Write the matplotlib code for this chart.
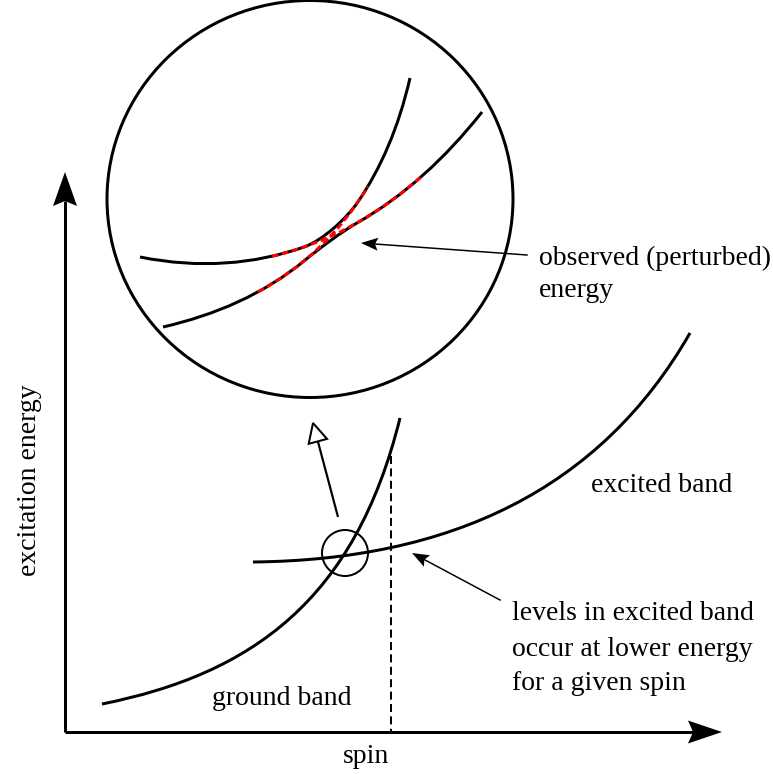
import numpy as np
import matplotlib
matplotlib.use("Agg")
import matplotlib.pyplot as plt
from matplotlib.path import Path
from matplotlib.patches import PathPatch, Ellipse, Circle, Polygon

plt.rcParams['font.family'] = ['Liberation Serif', 'DejaVu Serif']

# ---- bands as cubic Bezier control points (x = spin, y = screen depth, grows downward) ----
ground_ctrl_x = [102, 252, 355, 400]
ground_ctrl_y = [704, 674, 600, 418]

excited_ctrl_x = [253, 450, 600, 690]
excited_ctrl_y = [562, 560, 490, 333]

# ---- magnified crossing region: unperturbed bands ----
flat_ctrl_x = [140, 280, 395, 482]
flat_ctrl_y = [257, 285, 222, 112]
steep_ctrl_x = [163, 280, 375, 410]
steep_ctrl_y = [327, 300, 230, 78]
# spin window over which the observed levels swap character
mix_from, mix_to = 304, 358
# spin ranges where the unperturbed (dashed) bands are shown
flat_dash = (272, 422)
steep_dash = (258, 368)

spin_marker = 391          # spin value of the dashed guide line
guide_top = 456            # ground-band level at that spin

W, H = 773, 774
fig = plt.figure(figsize=(W / 100, H / 100), dpi=100)
ax = fig.add_axes([0, 0, 1, 1])
ax.set_xlim(0, W)
ax.set_ylim(H, 0)
ax.axis('off')

PX = 0.72  # points per pixel


def ctrl(xs, ys):
    return np.column_stack([xs, ys]).astype(float)


def bez_point(P, t):
    return ((1 - t) ** 3 * P[0] + 3 * (1 - t) ** 2 * t * P[1]
            + 3 * (1 - t) * t ** 2 * P[2] + t ** 3 * P[3])


def bez_deriv(P, t):
    return 3 * ((1 - t) ** 2 * (P[1] - P[0]) + 2 * (1 - t) * t * (P[2] - P[1])
                + t ** 2 * (P[3] - P[2]))


def split(P, t):
    a = P[0] + (P[1] - P[0]) * t
    b = P[1] + (P[2] - P[1]) * t
    c = P[2] + (P[3] - P[2]) * t
    d = a + (b - a) * t
    e = b + (c - b) * t
    f = d + (e - d) * t
    return np.array([P[0], a, d, f]), np.array([f, e, c, P[3]])


def piece(P, t0, t1):
    right = split(P, t0)[1]
    return split(right, (t1 - t0) / (1 - t0))[0]


def t_at_x(P, x):
    ts = np.linspace(0, 1, 2001)
    xs = np.array([bez_point(P, t)[0] for t in ts])
    return ts[np.argmin(np.abs(xs - x))]


def bridge(P, tp, Q, tq, handle=0.28):
    """Smooth cubic from P(tp) to Q(tq), tangent to both curves."""
    p0 = bez_point(P, tp)
    p3 = bez_point(Q, tq)
    d0 = bez_deriv(P, tp)
    d3 = bez_deriv(Q, tq)
    L = np.hypot(*(p3 - p0)) * handle
    p1 = p0 + d0 / np.hypot(*d0) * L
    p2 = p3 - d3 / np.hypot(*d3) * L
    return np.array([p0, p1, p2, p3])


def path_of(*segments):
    verts = [segments[0][0]]
    codes = [Path.MOVETO]
    for s in segments:
        verts += [s[1], s[2], s[3]]
        codes += [Path.CURVE4] * 3
    return Path(verts, codes)


def draw(path, **kw):
    ax.add_patch(PathPatch(path, fill=False, capstyle='butt', **kw))


def arrow_head(tip, tail, length, half_w, notch, fc='black', lw=0.0, ec='black'):
    tip = np.asarray(tip, float)
    tail = np.asarray(tail, float)
    d = tip - tail
    d /= np.hypot(*d)
    nrm = np.array([-d[1], d[0]])
    base = tip - d * length
    pts = [tip, base + nrm * half_w, tip - d * (length - notch), base - nrm * half_w]
    ax.add_patch(Polygon(pts, closed=True, fc=fc, ec=ec, lw=lw, joinstyle='miter', zorder=5))
    return tip - d * (length - notch)


# axes of the diagram
origin = (65, 732)
y_tip = (65, 172)
x_tip = (722, 732)
stop = arrow_head(y_tip, origin, 34, 12, 5)
ax.plot([origin[0], stop[0]], [origin[1], stop[1]], color='black', lw=3 * PX, solid_capstyle='butt')
stop = arrow_head(x_tip, origin, 34, 11.5, 5)
ax.plot([origin[0], stop[0]], [origin[1], stop[1]], color='black', lw=3 * PX, solid_capstyle='butt')

# bands
G = ctrl(ground_ctrl_x, ground_ctrl_y)
E = ctrl(excited_ctrl_x, excited_ctrl_y)
draw(path_of(G), ec='black', lw=3 * PX)
draw(path_of(E), ec='black', lw=3 * PX)

# dashed guide at a fixed spin
ax.plot([spin_marker, spin_marker], [guide_top, origin[1]], color='black',
        lw=2 * PX, dashes=(4, 2.2))

# small circle around the crossing and the hollow arrow towards the zoom
ax.add_patch(Circle((345, 553), 23, fill=False, ec='black', lw=2 * PX))
open_tip = (313, 423)
open_tail = (338, 517)
base = arrow_head(open_tip, open_tail, 19, 9.5, 0, fc='white', lw=2 * PX)
ax.plot([open_tail[0], base[0]], [open_tail[1], base[1]], color='black', lw=2.2 * PX,
        solid_capstyle='butt')

# magnified view
ax.add_patch(Ellipse((310, 199), 406, 397, fill=False, ec='black', lw=3 * PX))
A = ctrl(flat_ctrl_x, flat_ctrl_y)
B = ctrl(steep_ctrl_x, steep_ctrl_y)
ta0, ta1 = t_at_x(A, mix_from), t_at_x(A, mix_to)
tb0, tb1 = t_at_x(B, mix_from), t_at_x(B, mix_to)
upper = path_of(split(A, ta0)[0], bridge(A, ta0, B, tb1), split(B, tb1)[1])
lower = path_of(split(B, tb0)[0], bridge(B, tb0, A, ta1), split(A, ta1)[1])
draw(upper, ec='black', lw=3 * PX, zorder=3)
draw(lower, ec='black', lw=3 * PX, zorder=3)
red_a = piece(A, t_at_x(A, flat_dash[0]), t_at_x(A, flat_dash[1]))
red_b = piece(B, t_at_x(B, steep_dash[0]), t_at_x(B, steep_dash[1]))
draw(path_of(red_a), ec='#ff0000', lw=3 * PX, linestyle=(0, (2.2, 1.2)), zorder=4)
draw(path_of(red_b), ec='#ff0000', lw=3 * PX, linestyle=(0, (2.2, 1.2)), zorder=4)

# pointer arrows for the annotations
obs_tip, obs_tail = (361, 243), (527, 255)
stop = arrow_head(obs_tip, obs_tail, 17, 6.5, 3)
ax.plot([obs_tail[0], stop[0]], [obs_tail[1], stop[1]], color='black', lw=1.5 * PX)

lev_tip, lev_tail = (412, 553), (500, 600)
stop = arrow_head(lev_tip, lev_tail, 17, 6.5, 3)
ax.plot([lev_tail[0], stop[0]], [lev_tail[1], stop[1]], color='black', lw=1.5 * PX)

# labels
fs = 20
ax.text(30, 480, 'excitation energy', rotation=90, ha='center', va='center', fontsize=fs)
ax.text(343, 763, 'spin', ha='left', va='baseline', fontsize=fs)
ax.text(212, 705, 'ground band', ha='left', va='baseline', fontsize=fs)
ax.text(591, 492, 'excited band', ha='left', va='baseline', fontsize=fs)
ax.text(539, 265, 'observed (perturbed)', ha='left', va='baseline', fontsize=fs)
ax.text(539, 297, 'energy', ha='left', va='baseline', fontsize=fs)
ax.text(512, 620, 'levels in excited band', ha='left', va='baseline', fontsize=fs)
ax.text(512, 656, 'occur at lower energy', ha='left', va='baseline', fontsize=fs)
ax.text(512, 690, 'for a given spin', ha='left', va='baseline', fontsize=fs)

fig.savefig('out.png', dpi=100)
